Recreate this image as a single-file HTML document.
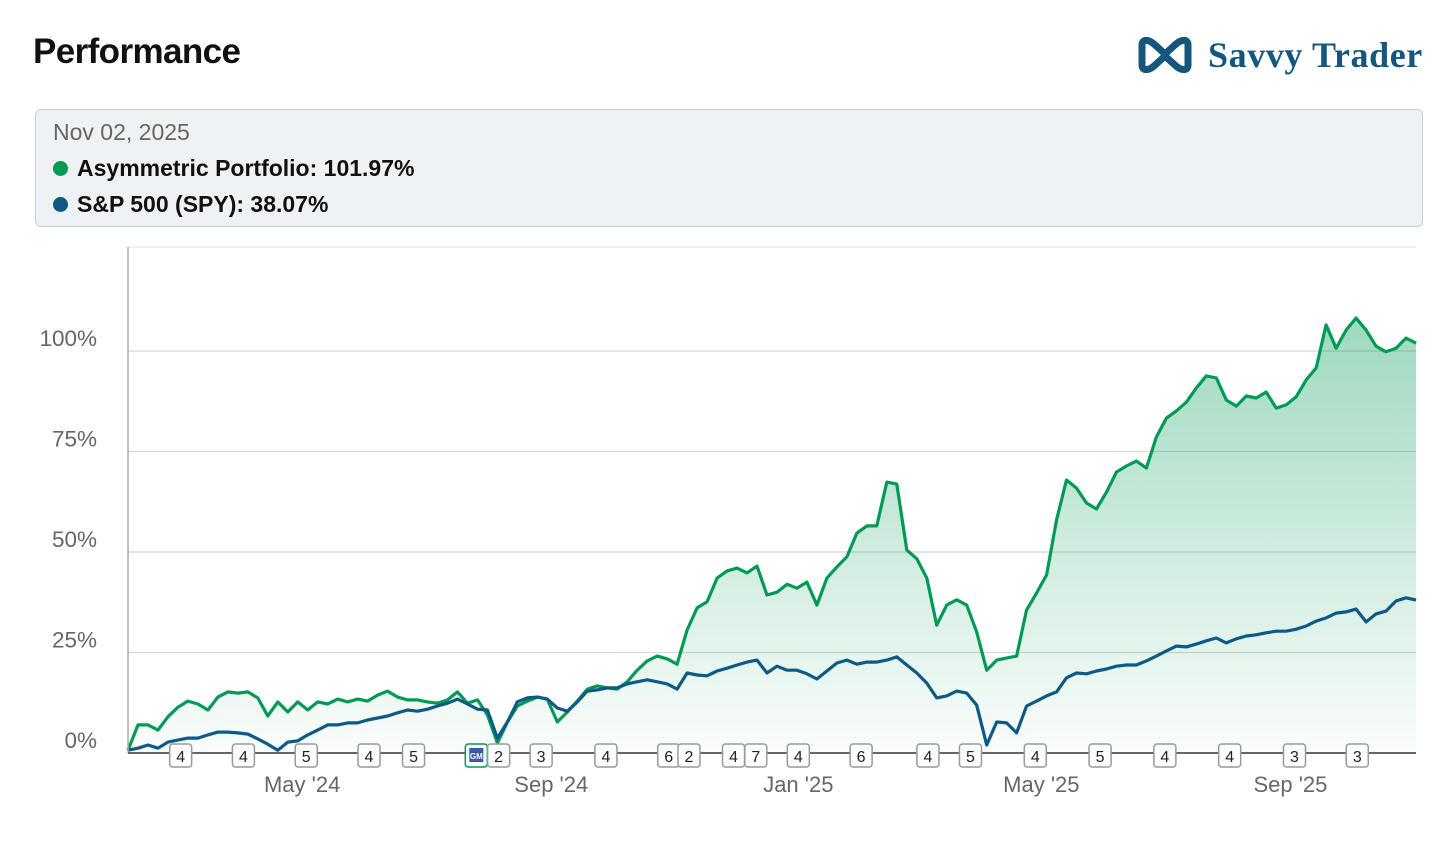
<!DOCTYPE html>
<html><head><meta charset="utf-8"><style>
body{margin:0;width:1454px;height:846px;background:#fff;font-family:"Liberation Sans",sans-serif;overflow:hidden;position:relative}
.title{position:absolute;left:33px;top:32px;font-size:35px;font-weight:bold;color:#111;letter-spacing:-0.6px}
.logo{position:absolute;left:1136px;top:34px;display:flex;align-items:center}
.logo span{font-family:"Liberation Serif",serif;font-size:36px;font-weight:bold;color:#14567e;margin-left:14px;letter-spacing:0.6px}
.legend{position:absolute;left:35px;top:109px;width:1388px;height:118px;background:#eef2f5;border:1px solid #c6cfd8;border-radius:6px;box-sizing:border-box}
.legend .d{position:absolute;left:17px;top:9px;font-size:23px;color:#666}
.legend .it{position:absolute;left:17px;font-size:23px;color:#111;font-weight:bold;display:flex;align-items:center}
.legend .it i{width:15px;height:15px;border-radius:50%;display:inline-block;margin-right:9px}
</style></head><body>
<div class="title">Performance</div>
<div class="logo">
<svg width="58" height="36" viewBox="0 0 58 36"><path d="M6 8 C6 2 12 2 18 7 L29 17 L40 7 C46 2 52 2 52 8 L52 28 C52 34 46 34 40 29 L29 19 L18 29 C12 34 6 34 6 28 Z" fill="none" stroke="#14567e" stroke-width="7" stroke-linejoin="round"/></svg>
<span>Savvy Trader</span></div>
<div class="legend">
<div class="d">Nov 02, 2025</div>
<div class="it" style="top:45px"><i style="background:#009a55"></i>Asymmetric Portfolio: 101.97%</div>
<div class="it" style="top:81px"><i style="background:#0e5a86"></i>S&amp;P 500 (SPY): 38.07%</div>
</div>
<svg id="chart" width="1454" height="846" style="position:absolute;left:0;top:0"></svg>
<script>
const startDate="2024-02-05", endDate="2025-11-02";
const greenValues=[0.7,7,7,5.7,9,11.4,12.9,12.2,10.7,13.9,15.2,14.9,15.2,13.7,9.2,12.7,10.2,12.7,10.7,12.7,12.2,13.4,12.7,13.4,12.9,14.4,15.4,13.9,13.2,13.2,12.7,12.4,13.2,15.2,12.4,13.2,9.5,2.5,7.7,11.7,12.9,13.9,13.4,7.7,10.2,12.9,15.9,16.7,16.2,15.9,17.7,20.6,22.9,24.1,23.4,22.1,30.6,36.1,37.6,43.5,45.3,46,44.8,46.5,39.3,40,42,41,42.5,36.8,43.5,46.3,48.8,54.7,56.5,56.5,67.4,66.9,50.5,48.3,43.5,31.8,36.8,38.1,36.8,30.1,20.6,23.1,23.6,24.1,35.6,39.8,44.3,58,67.9,65.9,62.2,60.7,64.9,69.9,71.4,72.6,70.9,78.6,83.3,85.1,87.3,90.8,93.8,93.3,87.8,86.3,88.8,88.3,89.8,85.8,86.6,88.6,92.8,95.8,106.5,100.7,105.2,108.2,105.2,101.2,99.8,100.7,103.2,101.97];
const blueValues=[0.7,1.2,2,1.2,2.7,3.2,3.7,3.7,4.5,5.2,5.2,5,4.7,3.5,2.2,0.7,2.7,3,4.5,5.7,7,7,7.5,7.5,8.2,8.7,9.2,10,10.7,10.4,10.9,11.7,12.4,13.4,12.2,10.9,10.7,3.7,7.7,12.7,13.7,13.9,13.4,11.2,10.4,12.7,15.4,15.7,16.2,16.2,17.2,17.7,18.2,17.7,17.2,15.9,19.9,19.4,19.2,20.4,21.1,21.9,22.6,23.1,19.9,21.6,20.6,20.6,19.7,18.4,20.4,22.4,23.1,22.1,22.6,22.6,23.1,23.9,21.9,19.9,17.4,13.7,14.2,15.4,14.9,11.9,2,7.7,7.5,5,11.7,12.9,14.2,15.2,18.7,19.9,19.7,20.4,20.9,21.6,21.9,21.9,22.9,24.1,25.4,26.6,26.4,27.1,27.9,28.6,27.4,28.4,29.1,29.4,29.9,30.3,30.3,30.8,31.6,32.8,33.6,34.8,35.1,35.8,32.6,34.6,35.3,37.8,38.6,38.07];
const yTicks=[0,25,50,75,100];
const yTickLabels=["0%","25%","50%","75%","100%"];
const xTickDates=["2024-05-01","2024-09-01","2025-01-01","2025-05-01","2025-09-01"];
const xTickLabels=["May '24","Sep '24","Jan '25","May '25","Sep '25"];
const markerDates=["2024-03-02","2024-04-02","2024-05-03","2024-06-03","2024-06-25","2024-07-26","2024-08-06","2024-08-27","2024-09-28","2024-10-29","2024-11-08","2024-11-30","2024-12-11","2025-01-01","2025-02-01","2025-03-06","2025-03-27","2025-04-28","2025-05-30","2025-07-01","2025-08-02","2025-09-03","2025-10-04"];
const markerLabels=["4","4","5","4","5","GM","2","3","4","6","2","4","7","4","6","4","5","4","5","4","4","3","3"];

const X0=128,X1=1416,Y0=753,PX=4.02;
const t0=Date.parse(startDate),t1=Date.parse(endDate);
const xs=t=>X0+(t-t0)/(t1-t0)*(X1-X0);
const ys=v=>Y0-v*PX;
const n=greenValues.length;
const dateAt=i=>t0+i*(t1-t0)/(n-1);
const svg=document.getElementById('chart');
const NS="http://www.w3.org/2000/svg";
function mk(tag,attrs,parent){const e=document.createElementNS(NS,tag);for(const k in attrs)e.setAttribute(k,attrs[k]);(parent||svg).appendChild(e);return e;}
const defs=mk('defs',{});
const lg=mk('linearGradient',{id:'gf',x1:0,y1:0,x2:0,y2:1},defs);
mk('stop',{offset:'0','stop-color':'#009a55','stop-opacity':'0.38'},lg);
mk('stop',{offset:'1','stop-color':'#009a55','stop-opacity':'0.02'},lg);
mk('line',{x1:X0,x2:X1,y1:247,y2:247,stroke:'#e2e2e2','stroke-width':1});
yTicks.forEach((v,i)=>{
 if(v>0){const g=mk('line',{x1:X0,x2:X1,y1:ys(v),y2:ys(v),stroke:'#d8d8d8','stroke-width':1.2});
 
 }
 const t=mk('text',{x:97,y:ys(v)-5,'text-anchor':'end','font-size':22.5,fill:'#666','font-family':'Liberation Sans'});
 t.textContent=yTickLabels[i];
 
 
});
let gp='',bp='';
for(let i=0;i<n;i++){const x=xs(dateAt(i));gp+=(i?'L':'M')+x.toFixed(1)+','+ys(greenValues[i]).toFixed(1);bp+=(i?'L':'M')+x.toFixed(1)+','+ys(blueValues[i]).toFixed(1);}
const area=mk('path',{d:gp+'L'+X1+','+Y0+'L'+X0+','+Y0+'Z',fill:'url(#gf)'});


const gl=mk('path',{d:gp,fill:'none',stroke:'#009a55','stroke-width':3.2,'stroke-linejoin':'round'});


const bl=mk('path',{d:bp,fill:'none',stroke:'#0e5a86','stroke-width':3.2,'stroke-linejoin':'round'});


const ya=mk('line',{x1:X0,x2:X0,y1:247,y2:Y0,stroke:'#aaa','stroke-width':1.5});


const xa=mk('line',{x1:X0,x2:X1,y1:Y0,y2:Y0,stroke:'#666','stroke-width':2});


xTickDates.forEach((d,i)=>{
 const x=xs(Date.parse(d));
 mk('line',{x1:x,x2:x,y1:Y0,y2:Y0+14,stroke:'#c8d8e8','stroke-width':1});
 const t=mk('text',{x:x,y:792,'text-anchor':'middle','font-size':22,fill:'#666','font-family':'Liberation Sans'});
 t.textContent=xTickLabels[i];
 
 
});
markerDates.forEach((d,i)=>{
 const x=xs(Date.parse(d));
 const g=mk('g',{});
 
 
 const isIcon=markerLabels[i]==='GM';
 mk('rect',{x:x-11,y:744,width:22,height:23,rx:3,fill:'#fff',stroke:isIcon?'#009a55':'#999','stroke-width':1.5},g);
 if(isIcon){mk('rect',{x:x-7,y:748,width:14,height:14,fill:'#3a5aa8'},g);
  const t=mk('text',{x:x,y:759,'text-anchor':'middle','font-size':8,fill:'#fff','font-weight':'bold','font-family':'Liberation Sans'},g);t.textContent='GM';}
 else{const t=mk('text',{x:x,y:762,'text-anchor':'middle','font-size':16,fill:'#222','font-family':'Liberation Sans'},g);t.textContent=markerLabels[i];}
});
</script>
</body></html>
